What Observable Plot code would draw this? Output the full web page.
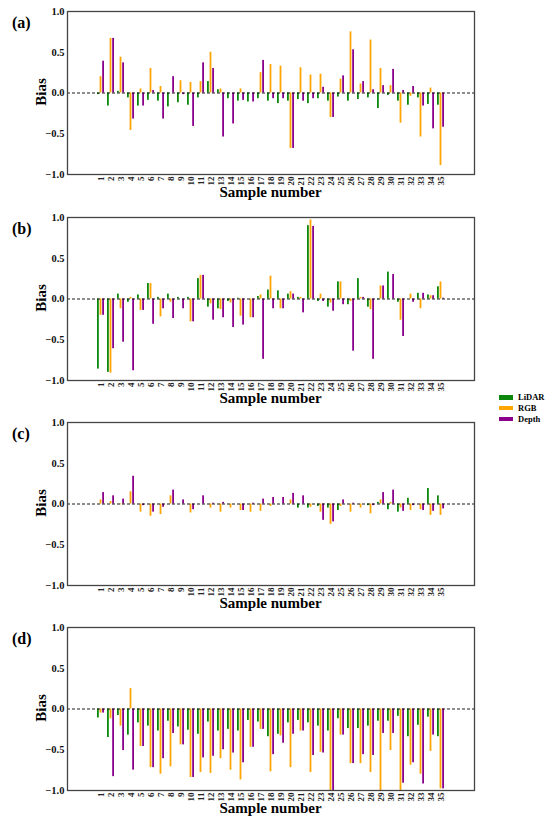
<!DOCTYPE html>
<html><head><meta charset="utf-8">
<script src="https://cdn.jsdelivr.net/npm/d3@7"></script>
<script src="https://cdn.jsdelivr.net/npm/@observablehq/plot@0.6"></script>
<style>
body{margin:0;background:#fff;}
#wrap{position:relative;width:550px;height:820px;font-family:"Liberation Serif","DejaVu Serif",serif;overflow:hidden;}
.panel{position:absolute;left:0;}
.lab{position:absolute;font-weight:bold;color:#000;white-space:nowrap;line-height:1;font-family:"Liberation Serif","DejaVu Serif",serif;}
</style></head><body><div id="wrap"></div>
<script>
const samples = ["1","2","3","4","5","6","7","8","9","10","11","12","13","14","15","16","17","18","19","20","21","22","23","24","25","26","27","28","29","30","31","32","33","34","35"];
const seriesNames = ["LiDAR","RGB","Depth"];
const seriesColors = ["#0b870b","#FFA500","#8B008B"];
const yTicks = [-1,-0.5,0,0.5,1];
const panelLabels = ["(a)","(b)","(c)","(d)"];

const aLiDAR = [-0.02,-0.16,0.02,-0.06,-0.16,-0.09,-0.10,-0.17,-0.12,-0.15, -0.06,0.14,0.04,-0.07,-0.10,-0.11,-0.07,-0.10,-0.13,-0.10, -0.08,-0.13,-0.07,-0.10,-0.05,-0.10,-0.08,-0.06,-0.19,-0.03, -0.10,-0.15,-0.06,-0.14,-0.15];
const aRGB = [0.20,0.67,0.44,-0.46,0.05,0.30,0.08,0.0,0.15,0.13, 0.14,0.50,0.05,0.0,0.05,0.0,0.25,0.35,0.33,-0.68, 0.31,0.22,0.23,-0.30,0.17,0.75,0.11,0.65,0.30,0.09, -0.37,-0.04,-0.54,0.06,-0.89];
const aDepth = [0.39,0.67,0.37,-0.32,-0.16,0.03,-0.32,0.20,-0.02,-0.41, 0.37,0.30,-0.54,-0.38,-0.09,-0.11,0.40,-0.07,-0.07,-0.68, -0.10,-0.07,0.07,-0.30,0.21,0.53,0.14,0.04,0.09,0.29, 0.03,0.08,-0.16,-0.44,-0.42];

const bLiDAR = [-0.86,-0.90,0.06,-0.04,0.05,0.19,0.02,0.06,0.02,0.02, 0.25,-0.10,-0.12,-0.03,0.01,0.0,0.03,0.11,0.10,0.06, 0.02,0.90,-0.03,-0.10,0.21,-0.07,0.25,-0.10,-0.01,0.33, -0.04,0.0,0.07,0.05,0.15];
const bRGB = [-0.20,-0.91,-0.12,0.02,-0.14,0.19,-0.22,-0.04,0.0,-0.28, 0.29,-0.06,-0.13,-0.05,-0.21,-0.23,0.05,0.28,-0.12,0.09, 0.02,0.97,0.06,-0.05,0.21,-0.03,0.02,-0.13,0.16,0.0, -0.26,0.06,-0.12,0.04,0.21];
const bDepth = [-0.20,-0.61,-0.53,-0.88,-0.14,-0.31,-0.12,-0.24,-0.12,-0.28, 0.29,-0.26,-0.23,-0.35,-0.32,-0.23,-0.74,-0.12,-0.12,0.06, -0.17,0.89,-0.03,-0.15,-0.07,-0.64,0.02,-0.74,0.16,0.30, -0.46,-0.04,0.07,0.04,0.01];

const cLiDAR = [0,0,0,0,0,0,0,0,0,0, 0,0,0,0,0,0,0,0,0,0, -0.05,-0.05,-0.03,-0.05,-0.08,0,0,-0.02,0.02,-0.07, -0.10,0.07,0,0.19,0.10];
const cRGB = [0.05,0.03,-0.01,0.15,-0.10,-0.15,-0.13,0.10,0.0,-0.11, 0.0,-0.05,-0.10,-0.05,-0.08,-0.10,-0.09,-0.03,0.0,0.05, 0.0,-0.04,-0.10,-0.25,-0.03,-0.10,-0.05,-0.12,0.05,0.02, -0.05,-0.08,-0.07,-0.14,-0.14];
const cDepth = [0.14,0.10,0.06,0.34,-0.02,-0.10,-0.04,0.17,0.05,-0.07, 0.10,0.01,0.02,0.0,-0.08,0.01,0.06,0.08,0.08,0.13, 0.10,0.0,-0.20,-0.22,0.05,0.01,0.0,-0.02,0.14,0.17, -0.09,-0.02,-0.08,-0.09,-0.06];

const dLiDAR = [-0.11,-0.35,-0.08,-0.32,-0.17,-0.21,-0.27,-0.15,-0.22,-0.26, -0.31,-0.16,-0.27,-0.25,-0.27,-0.14,-0.16,-0.34,-0.31,-0.17, -0.14,-0.17,-0.21,-0.27,-0.12,-0.24,-0.24,-0.21,-0.15,-0.15, -0.09,-0.34,-0.20,-0.10,-0.34];
const dRGB = [-0.05,-0.12,-0.21,0.25,-0.46,-0.72,-0.80,-0.71,-0.44,-0.84, -0.78,-0.79,-0.61,-0.75,-0.87,-0.47,-0.25,-0.77,-0.33,-0.72, -0.27,-0.78,-0.53,-1.0,-0.32,-0.67,-0.67,-0.78,-1.0,-0.51, -1.0,-0.69,-0.80,-0.52,-0.98];
const dDepth = [-0.05,-0.83,-0.51,-0.75,-0.46,-0.72,-0.61,-0.30,-0.44,-0.84, -0.60,-0.58,-0.50,-0.54,-0.66,-0.47,-0.25,-0.56,-0.42,-0.31, -0.27,-0.57,-0.54,-1.0,-0.32,-0.67,-0.56,-0.57,-0.30,-0.30, -0.91,-0.66,-0.92,-0.32,-0.98];

const panels = [[aLiDAR,aRGB,aDepth],[bLiDAR,bRGB,bDepth],[cLiDAR,cRGB,cDepth],[dLiDAR,dRGB,dDepth]];

const W = 550, H = 205, mL = 67, mR = 76, mT = 11, mB = 31;
const padIn = 0.27, padOut = 1.68;
const step = (W - mL - mR) / (samples.length - padIn + 2 * padOut);
const sub = step * (1 - padIn) / 3;
const tops = [0, 205.5, 410.5, 616];
const serif = '"Liberation Serif","DejaVu Serif",serif';

const wrap = document.getElementById("wrap");

function addLabel(text, x, y, size, css) {
  const d = document.createElement("div");
  d.className = "lab";
  d.textContent = text;
  d.style.fontSize = size + "px";
  d.style.left = x + "px";
  d.style.top = y + "px";
  if (css) Object.assign(d.style, css);
  wrap.appendChild(d);
  return d;
}

panels.forEach((series, p) => {
  const marks = [];
  series.forEach((vals, s) => {
    const rows = samples.map((k, i) => ({sample: k, value: vals[i]}));
    marks.push(Plot.barY(rows, {
      x: "sample", y: "value", fill: seriesColors[s],
      insetLeft: s * sub, insetRight: (2 - s) * sub
    }));
  });
  marks.push(Plot.ruleY([0], {stroke: "#000", strokeWidth: 0.9, strokeDasharray: "3,2"}));
  marks.push(Plot.frame({stroke: "#444", strokeWidth: 1.3}));
  marks.push(Plot.axisY({ticks: yTicks, tickFormat: d3.format(".1f"), tickSize: 0, tickPadding: 3, label: null, fontSize: 10.5, fontWeight: "bold", fill: "#111"}));
  marks.push(Plot.axisX({tickRotate: -90, tickSize: 0, tickPadding: 2, label: null, fontSize: 9, fontWeight: "bold", fill: "#222"}));
  const chart = Plot.plot({
    width: W, height: H,
    marginLeft: mL, marginRight: mR, marginTop: mT, marginBottom: mB,
    style: {fontFamily: serif, background: "transparent", overflow: "visible"},
    x: {type: "band", domain: samples, paddingInner: padIn, paddingOuter: padOut},
    y: {domain: [-1, 1]},
    marks
  });
  chart.setAttribute("font-family", serif);
  const holder = document.createElement("div");
  holder.className = "panel";
  holder.style.top = tops[p] + "px";
  holder.appendChild(chart);
  wrap.appendChild(holder);

  addLabel(panelLabels[p], 12, tops[p] + 15, 16);
  addLabel("Bias", 41, tops[p] + 92, 15, {transform: "translate(-50%,-50%) rotate(-90deg)"});
  addLabel("Sample number", 270.5, tops[p] + 192, 15, {transform: "translate(-50%,-50%)"});
});

// legend
seriesNames.forEach((name, i) => {
  const y = 397 + i * 10.8;
  const sw = document.createElement("div");
  sw.style.cssText = `position:absolute;left:499px;top:${y - 2}px;width:14px;height:4.5px;background:${seriesColors[i]};`;
  wrap.appendChild(sw);
  addLabel(name, 518, y - 4, 8.5);
});
</script></body></html>
